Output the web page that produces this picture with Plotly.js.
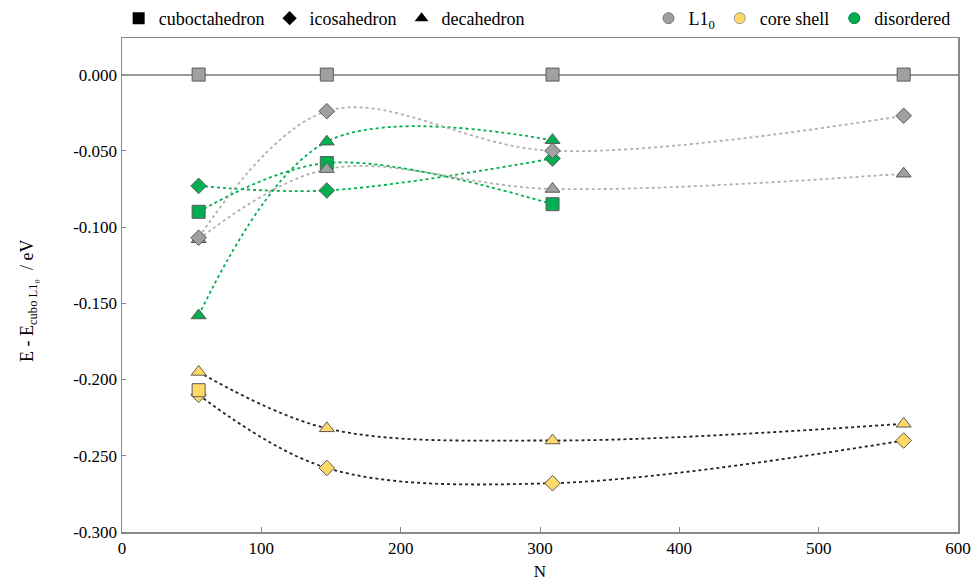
<!DOCTYPE html>
<html>
<head>
<meta charset="utf-8">
<script src="https://cdn.plot.ly/plotly-3.0.1.min.js"></script>
<style>html,body{margin:0;padding:0;background:#fff;}#chart{width:973px;height:581px;}</style>
</head>
<body>
<div id="chart"></div>
<script>
// Cluster sizes
const N = [55, 147, 309, 561];
// L1_0 ordered
const l10Cubo = [0.000, 0.000, 0.000, 0.000];
const l10Ico  = [-0.107, -0.024, -0.050, -0.027];
const l10Deca = [-0.108, -0.062, -0.075, -0.065];
// core shell
const csCuboN = [55];
const csCubo  = [-0.207];
const csIco   = [-0.210, -0.258, -0.268, -0.240];
const csDeca  = [-0.195, -0.232, -0.240, -0.229];
// disordered
const disN    = [55, 147, 309];
const disCubo = [-0.090, -0.058, -0.085];
const disIco  = [-0.073, -0.076, -0.055];
const disDeca = [-0.158, -0.044, -0.043];
// ticks
const yTickVals = [0, -0.05, -0.1, -0.15, -0.2, -0.25, -0.3];
const yTickText = ["0.000", "-0.050", "-0.100", "-0.150", "-0.200", "-0.250", "-0.300"];
const xTickVals = [0, 100, 200, 300, 400, 500, 600];

const GRAY = '#a0a0a0', YEL = '#ffd966', GRN = '#00b050';
const EDGE = '#5a5a5a';
const SYM = {cubo: 'square', ico: 'diamond', deca: 'triangle-up'};
const SIZE = {cubo: 13, ico: 12, deca: 13};

function line(x, y, color) {
  return {x: x, y: y, mode: 'lines', type: 'scatter', showlegend: false, hoverinfo: 'skip',
    line: {color: color, width: 1.8, dash: 'dot', shape: 'spline', smoothing: 1}};
}
function pts(x, y, fill, shape) {
  return {x: x, y: y, mode: 'markers', type: 'scatter', showlegend: false,
    marker: {symbol: SYM[shape], size: SIZE[shape], color: fill, line: {color: EDGE, width: 1}}};
}
function leg(name, symbol, color, lg, edge, size) {
  return {x: [null], y: [null], mode: 'markers', type: 'scatter', name: name, legend: lg,
    marker: {symbol: symbol, size: size, color: color, line: {color: edge || color, width: edge ? 1 : 0}}};
}

const traces = [
  line(disN, disCubo, GRN), line(disN, disIco, GRN), line(disN, disDeca, GRN),
  line(N, l10Ico, '#b0b0b0'), line(N, l10Deca, '#b0b0b0'),
  line(N, csIco, '#222'), line(N, csDeca, '#222'),
  pts(disN, disCubo, GRN, 'cubo'), pts(disN, disIco, GRN, 'ico'), pts(disN, disDeca, GRN, 'deca'),
  pts(N, l10Deca, GRAY, 'deca'), pts(N, l10Ico, GRAY, 'ico'), pts(N, l10Cubo, GRAY, 'cubo'),
  pts(N, csIco, YEL, 'ico'), pts(N, csDeca, YEL, 'deca'), pts(csCuboN, csCubo, YEL, 'cubo'),
  leg('cuboctahedron', 'square', '#000', 'legend', null, 12),
  leg('icosahedron', 'diamond', '#000', 'legend', null, 11),
  leg('decahedron', 'triangle-up', '#000', 'legend', null, 12),
  leg('L1<sub>0</sub>', 'circle', GRAY, 'legend2', '#777', 11),
  leg('core shell', 'circle', YEL, 'legend2', '#999', 11),
  leg('disordered', 'circle', GRN, 'legend2', '#0a7a3a', 11)
];

const FONT = 'Liberation Serif';
const layout = {
  width: 973, height: 581,
  margin: {l: 122, r: 15, t: 38, b: 49},
  paper_bgcolor: '#fff', plot_bgcolor: '#fff',
  font: {family: FONT, size: 17, color: '#000'},
  showlegend: true,
  legend: {orientation: 'h', x: -0.004, xanchor: 'left', yref: 'container', y: 1, yanchor: 'top',
    font: {family: FONT, size: 18}, bgcolor: 'rgba(0,0,0,0)', itemclick: false},
  legend2: {orientation: 'h', x: 0.997, xanchor: 'right', yref: 'container', y: 1, yanchor: 'top',
    font: {family: FONT, size: 18}, bgcolor: 'rgba(0,0,0,0)', itemclick: false},
  xaxis: {range: [0, 600], tickvals: xTickVals, ticks: 'inside', ticklen: 5, tickcolor: '#888',
    showline: true, linecolor: '#888', linewidth: 1.5, mirror: true, showgrid: false, zeroline: false,
    tickfont: {family: FONT, size: 17},
    title: {text: 'N', font: {family: FONT, size: 17}, standoff: 20}},
  yaxis: {range: [-0.3, 0.024], tickvals: yTickVals, ticktext: yTickText, ticks: 'inside', ticklen: 4,
    tickcolor: '#888', showline: true, linecolor: '#888', linewidth: 1.5, mirror: true, showgrid: false,
    zeroline: true, zerolinecolor: '#999', zerolinewidth: 2,
    tickfont: {family: FONT, size: 17}},
  annotations: [{
    text: 'E - E<sub>cubo L1₀</sub>  / eV', textangle: -90, showarrow: false,
    xref: 'paper', yref: 'paper', x: -0.1124, y: 0.4676, xanchor: 'center', yanchor: 'middle',
    font: {family: FONT, size: 18, color: '#000'}
  }]
};

Plotly.newPlot('chart', traces, layout, {displayModeBar: false, staticPlot: true});
</script>
</body>
</html>
